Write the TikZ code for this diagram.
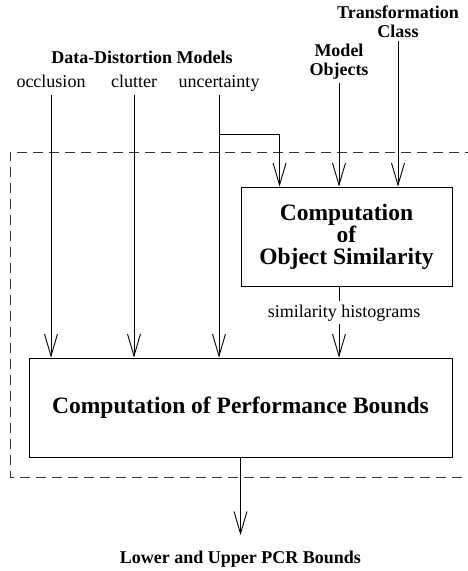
\documentclass[tikz,border=0pt]{standalone}
\usepackage{fontspec}
\setmainfont{Liberation Serif}
\usetikzlibrary{arrows.meta}

\begin{document}
\begin{tikzpicture}[x=1pt, y=1pt, line width=0.9pt,
  lbl/.style={font=\fontsize{18}{20}\selectfont, inner sep=3pt, text depth=4pt},
  hdr/.style={font=\fontsize{18}{19}\selectfont\bfseries, inner sep=3pt, align=center},
  procbox/.style={draw, rectangle, font=\fontsize{23.5}{21.5}\selectfont\bfseries,
    align=center, inner sep=0pt},
  flow/.style={-{Straight Barb[length=22pt,width=13pt]}}]
  \useasboundingbox (0,0) rectangle (467,-571);

  \draw[dash pattern=on 10pt off 6pt, black!80] (475,-152) -- (10,-152) -- (10,-477) -- (475,-477);

  \node[procbox, minimum width=211pt, minimum height=99pt] (simbox) at (346.5,-236.5)
    {Computation\\of\\Object Similarity};
  \node[procbox, minimum width=423pt, minimum height=99pt] (bounds) at (240.5,-407.5)
    {Computation of Performance Bounds};

  \node[hdr, anchor=base] (ddm) at (142,-63) {Data-Distortion Models};
  \foreach \x/\n/\t in {51/occl/occlusion, 134/clut/clutter, 219/unc/uncertainty}
    \node[lbl, anchor=south] (\n) at (\x,-95) {\t};
  \node[hdr, anchor=south] (mobj) at (339,-83) {Model\\Objects};
  \node[hdr, anchor=south] (tcls) at (398,-41) {Transformation\\Class};
  \node[lbl, anchor=base, text height=13pt] (hist) at (344,-317) {similarity histograms};
  \node[hdr, anchor=base] (pcr) at (240.5,-563) {Lower and Upper PCR Bounds};

  \foreach \n in {occl,clut,unc}
    \draw[flow] (\n.south) -- (\n.south |- bounds.north);
  \coordinate (split) at (unc.south |- 0,-134);
  \draw[flow] (split) -| ([xshift=39pt]simbox.north west);
  \draw[flow] (mobj.south) -- (mobj.south |- simbox.north);
  \draw[flow] (tcls.south) -- (tcls.south |- simbox.north);

  \draw (simbox.south -| mobj.south) -- (hist.north -| mobj.south);
  \draw[flow] (hist.south -| mobj.south) -- (bounds.north -| mobj.south);
  \draw[flow] (bounds.south) -- ([yshift=12pt]pcr.north);
\end{tikzpicture}
\end{document}
